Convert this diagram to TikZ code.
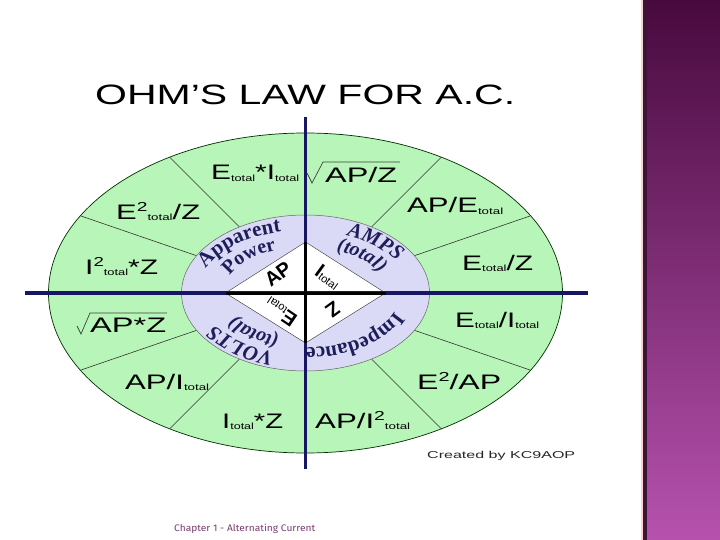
\documentclass[tikz,border=0pt]{standalone}
\usepackage{graphicx}
\usepackage{fontspec}
\setmainfont{Liberation Serif}
\newfontfamily\arialf{Liberation Sans}
\newfontfamily\footf{Fira Sans}
\usetikzlibrary{decorations.text,calc}
\definecolor{ringgreen}{RGB}{184,245,184}
\definecolor{ringlav}{RGB}{218,218,246}
\definecolor{navyline}{RGB}{22,22,100}
\definecolor{ringblue}{RGB}{30,30,90}
\definecolor{bandtop}{RGB}{72,10,62}
\definecolor{bandmid}{RGB}{128,45,115}
\definecolor{bandbot}{RGB}{182,82,174}
\definecolor{bandedge}{RGB}{60,20,55}
\definecolor{footcol}{RGB}{120,60,112}
\newcommand\tot{\raisebox{-1.5pt}{\fontsize{9}{9}\selectfont total}}
\newcommand\dtot{\raisebox{-1pt}{\fontsize{11}{11}\selectfont\mdseries total}}
\newcommand\sqd{\raisebox{8pt}{\fontsize{13}{13}\selectfont 2}}
\newcommand\fmla[2]{\resizebox{#1pt}{\height}{\arialf\fontsize{21}{21}\selectfont #2}}
\newcommand\rfont{\fontsize{21}{21}\selectfont\bfseries}
\newcommand\rifont{\fontsize{21}{21}\selectfont\bfseries\itshape}
\newcommand\rsfont{\fontsize{20}{20}\selectfont\bfseries}
\newcommand\risfont{\fontsize{20}{20}\selectfont\bfseries\itshape}
\tikzset{
  fml/.style={anchor=base west, inner sep=0pt},
  sepline/.style={draw=black!80, line width=0.6pt},
  radline/.style={draw=black!75, line width=0.7pt},
  navy/.style={draw=navyline, line width=3.5pt},
  blk/.style={draw=black, line width=3pt},
  ringtxt/.style={decorate, decoration={text along path, text align=center, text color=ringblue, text={#1}}},
  dtext/.style={font=\arialf\bfseries\fontsize{20}{20}\selectfont, inner sep=1pt}
}
\begin{document}
\begin{tikzpicture}[x=1pt,y=1pt]
\useasboundingbox (0,0) rectangle (720,-540);
\fill[white] (0,0) rectangle (720,-540);
% right band
\shade[top color=bandtop, middle color=bandmid, bottom color=bandbot] (643,0) rectangle (720,-540);
\fill[bandedge] (643,0) rectangle (647,-540);
\fill[pink!70!white] (640.5,0) rectangle (643,-540);
% title
\node[anchor=base west, inner sep=0pt] (title) at (95,-105) {\resizebox{420pt}{\height}{\arialf\fontsize{28}{28}\selectfont OHM’S LAW FOR A.C.}};
% geometry
\coordinate (C) at (305.5,-293);
\coordinate (vtop) at (305.5,-117);
\coordinate (vbot) at (305.5,-469);
\coordinate (hl) at (25,-293);
\coordinate (hr) at (588,-293);
\coordinate (dT) at ($(C)+(0,51)$);
\coordinate (dB) at ($(C)+(0,-50)$);
\coordinate (dL) at ($(C)+(-80,0)$);
\coordinate (dR) at ($(C)+(80,0)$);
\filldraw[fill=ringgreen, draw=black!70!green!60!black, line width=0.7pt] (C) ellipse [x radius=257, y radius=160];
\foreach \sx in {1,-1}{\foreach \sy in {1,-1}{
  \draw[sepline] ($(C)+(66*\sx,66*\sy)$) -- ($(C)+(135.8*\sx,135.8*\sy)$);
  \draw[sepline] ($(C)+(108.9*\sx,37.3*\sy)$) -- ($(C)+(225.1*\sx,77.2*\sy)$);
}}
\filldraw[fill=ringlav, draw=black!60, line width=0.5pt] (C) ellipse [x radius=124, y radius=78];
\filldraw[fill=white, draw=black!70, line width=0.5pt] (dL) -- (dT) -- (dR) -- (dB) -- cycle;
\draw[navy] (vtop) -- (vbot);
\draw[navy] (hl) -- (hr);
\draw[blk] (dT) -- (dB);
\draw[blk] (dL) -- (dR);
% ring texts
\path[ringtxt={|\rfont|Apparent}] (C) ++(182:108 and 63) arc[start angle=182, end angle=88, x radius=108, y radius=63];
\path[ringtxt={|\rsfont|Power}] (C) ++(172:82 and 46) arc[start angle=172, end angle=102, x radius=82, y radius=46];
\path[ringtxt={|\rifont|AMPS}] (C) ++(88:106 and 62) arc[start angle=88, end angle=-2, x radius=106, y radius=62];
\path[ringtxt={|\risfont|(total)}] (C) ++(82:82 and 46) arc[start angle=82, end angle=2, x radius=82, y radius=46];
\path[ringtxt={|\rfont|Impedance}] (C) ++(4:95 and 55) arc[start angle=4, end angle=-104, x radius=95, y radius=55];
\path[ringtxt={|\rifont|VOLTS}] (C) ++(-88:106 and 62) arc[start angle=-88, end angle=-180, x radius=106, y radius=62];
\path[ringtxt={|\risfont|(total)}] (C) ++(-94:82 and 46) arc[start angle=-94, end angle=-174, x radius=82, y radius=46];
% diamond texts
\node[dtext, rotate=36] (ap) at (278,-274) {AP};
\node[dtext, rotate=-36] (itot) at (328,-277) {I\dtot};
\node[dtext, rotate=146] (etot) at (281,-312) {E\dtot};
\node[dtext, rotate=-144] (zz) at (333,-310) {Z};
% formulas
\node[fml] (f1) at (211,-180) {\fmla{88}{E\tot*I\tot}};
\node[fml] (f2) at (325,-183) {\fmla{72}{AP/Z}};
\draw[radline] (f2.base west) ++(-18,10) -- ++(5,-10) -- ++(11,21) -- ++(77,0);
\node[fml] (f3) at (116,-219) {\fmla{84}{E\sqd\tot/Z}};
\node[fml] (f4) at (407,-213) {\fmla{96}{AP/E\tot}};
\node[fml] (f5) at (85,-274) {\fmla{73}{I\sqd\tot*Z}};
\node[fml] (f6) at (462,-270) {\fmla{71}{E\tot/Z}};
\node[fml] (f7) at (90,-332) {\fmla{76}{AP*Z}};
\draw[radline] (f7.base west) ++(-13,6) -- ++(4,-8) -- ++(9,21) -- ++(77,0);
\node[fml] (f8) at (455,-327) {\fmla{84}{E\tot/I\tot}};
\node[fml] (f9) at (125,-389) {\fmla{84}{AP/I\tot}};
\node[fml] (f10) at (417,-389) {\fmla{84}{E\sqd/AP}};
\node[fml] (f11) at (222,-428) {\fmla{61}{I\tot*Z}};
\node[fml] (f12) at (315,-428) {\fmla{95}{AP/I\sqd\tot}};
\node[anchor=base west, inner sep=0pt, text=black!85] (credit) at (427,-458) {\resizebox{148pt}{\height}{\arialf\fontsize{10}{10}\selectfont Created by KC9AOP}};
\node[anchor=base west, inner sep=0pt, text=footcol] (foot) at (174,-531) {\resizebox{141pt}{\height}{\footf\fontsize{9.5}{9.5}\selectfont Chapter 1 - Alternating Current}};
\end{tikzpicture}
\end{document}
